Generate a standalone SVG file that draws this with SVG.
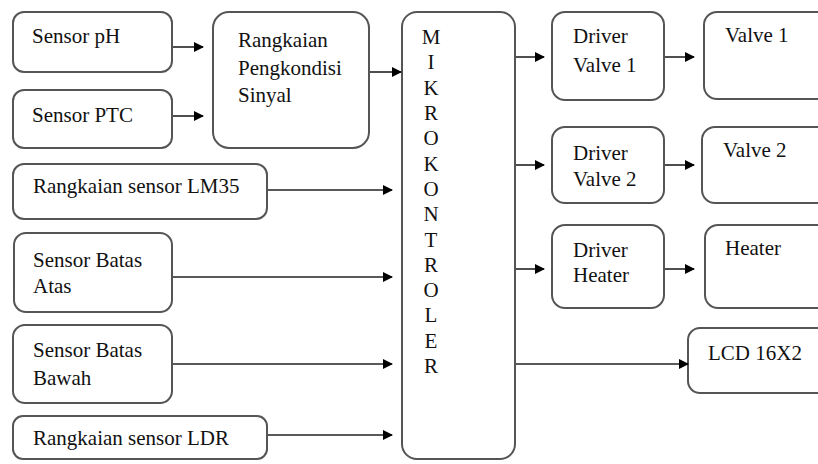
<svg xmlns="http://www.w3.org/2000/svg" width="818" height="464" viewBox="0 0 818 464" font-family="'Liberation Serif','Times New Roman',serif">
<defs>
<marker id="ah" markerWidth="10" markerHeight="10" refX="9" refY="5" orient="auto" markerUnits="userSpaceOnUse"><path d="M0,0 L10,5 L0,10 z" fill="#000"/></marker>
<style>
.box{fill:#fff;stroke:#555;stroke-width:2}
.t{font-family:"Liberation Serif","Times New Roman",serif;font-size:21px;fill:#111}
.c{stroke:#222;stroke-width:1.6;fill:none;marker-end:url(#ah)}
</style>
</defs>
<rect width="818" height="464" fill="#fff"/>
<g id="sensor-ph"><rect class="box" x="13" y="12" width="159" height="60" rx="11"/><text class="t" x="32" y="43">Sensor pH</text></g>
<g id="sensor-ptc"><rect class="box" x="13" y="90" width="159" height="58" rx="11"/><text class="t" x="32" y="122">Sensor PTC</text></g>
<g id="pengkondisi"><rect class="box" x="213" y="12" width="156" height="136" rx="16"/><text class="t" x="238" y="47">Rangkaian</text><text class="t" x="238" y="75">Pengkondisi</text><text class="t" x="238" y="102">Sinyal</text></g>
<g id="lm35"><rect class="box" x="13" y="164" width="254" height="55" rx="11"/><text class="t" x="33" y="193">Rangkaian sensor LM35</text></g>
<g id="batas-atas"><rect class="box" x="14" y="233" width="158" height="79" rx="12"/><text class="t" x="33" y="267">Sensor Batas</text><text class="t" x="33" y="293">Atas</text></g>
<g id="batas-bawah"><rect class="box" x="13" y="325" width="159" height="78" rx="12"/><text class="t" x="33" y="357">Sensor Batas</text><text class="t" x="33" y="385">Bawah</text></g>
<g id="ldr"><rect class="box" x="13" y="416" width="254" height="43" rx="10"/><text class="t" x="33" y="445">Rangkaian sensor LDR</text></g>
<g id="mikrokontroler"><rect class="box" x="402" y="12" width="113" height="447" rx="15"/>
<g class="t" text-anchor="middle">
<text x="431" y="44">M</text><text x="431" y="69">I</text><text x="431" y="95">K</text><text x="431" y="120">R</text><text x="431" y="145">O</text><text x="431" y="171">K</text><text x="431" y="196">O</text><text x="431" y="221">N</text><text x="431" y="247">T</text><text x="431" y="272">R</text><text x="431" y="297">O</text><text x="431" y="322">L</text><text x="431" y="348">E</text><text x="431" y="373">R</text>
</g></g>
<g id="driver-valve1"><rect class="box" x="552" y="12" width="112" height="88" rx="13"/><text class="t" x="573" y="43">Driver</text><text class="t" x="573" y="72">Valve 1</text></g>
<g id="valve1"><rect class="box" x="704" y="12" width="130" height="87" rx="13"/><text class="t" x="725" y="42">Valve 1</text></g>
<g id="driver-valve2"><rect class="box" x="552" y="127" width="112" height="76" rx="13"/><text class="t" x="573" y="160">Driver</text><text class="t" x="573" y="186">Valve 2</text></g>
<g id="valve2"><rect class="box" x="702" y="127" width="130" height="76" rx="13"/><text class="t" x="723" y="157">Valve 2</text></g>
<g id="driver-heater"><rect class="box" x="552" y="225" width="112" height="83" rx="13"/><text class="t" x="573" y="257">Driver</text><text class="t" x="573" y="282">Heater</text></g>
<g id="heater"><rect class="box" x="705" y="225" width="130" height="83" rx="13"/><text class="t" x="725" y="255">Heater</text></g>
<g id="lcd"><rect class="box" x="688" y="328" width="145" height="65" rx="12"/><text class="t" x="708" y="360">LCD 16X2</text></g>
<g id="connectors">
<line class="c" x1="173" y1="47" x2="203" y2="47"/>
<line class="c" x1="173" y1="116" x2="203" y2="116"/>
<line class="c" x1="370" y1="72" x2="401" y2="72"/>
<line class="c" x1="268" y1="190" x2="392" y2="190"/>
<line class="c" x1="173" y1="277" x2="392" y2="277"/>
<line class="c" x1="173" y1="364" x2="392" y2="364"/>
<line class="c" x1="268" y1="435" x2="392" y2="435"/>
<line class="c" x1="516" y1="57" x2="544" y2="57"/>
<line class="c" x1="516" y1="165" x2="544" y2="165"/>
<line class="c" x1="516" y1="269" x2="544" y2="269"/>
<line class="c" x1="665" y1="57" x2="694" y2="57"/>
<line class="c" x1="665" y1="165" x2="694" y2="165"/>
<line class="c" x1="665" y1="269" x2="694" y2="269"/>
<line class="c" x1="516" y1="364" x2="688" y2="364"/>
</g>
</svg>
